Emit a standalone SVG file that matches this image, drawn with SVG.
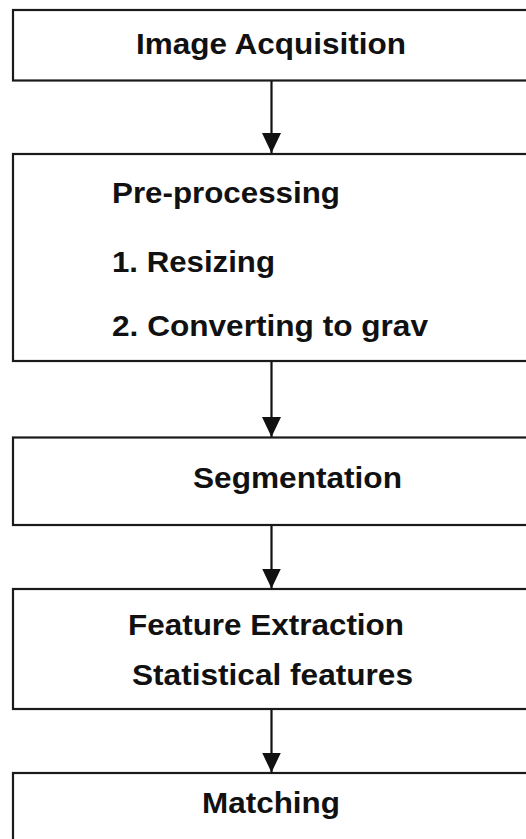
<svg xmlns="http://www.w3.org/2000/svg" width="526" height="839" viewBox="0 0 526 839">
<style>
.box{fill:#fff;stroke:#1a1a1a;stroke-width:2.2}
.t{font-family:"Liberation Sans",Arial,sans-serif;font-weight:bold;font-size:29.5px;fill:#111}
.conn{stroke:#111;stroke-width:2.2;fill:none}
</style>
<defs>
<marker id="ah" markerUnits="userSpaceOnUse" markerWidth="20" markerHeight="19" refX="20" refY="9.5" orient="auto">
<path d="M0,0 L20,9.5 L0,19 Z" fill="#111"/>
</marker>
</defs>
<rect width="526" height="839" fill="#fff"/>
<g id="n1">
<rect class="box" x="13" y="10" width="530" height="70.5"/>
<text class="t" x="136" y="54" textLength="270" lengthAdjust="spacingAndGlyphs">Image Acquisition</text>
</g>
<g id="n2">
<rect class="box" x="13" y="154" width="530" height="207"/>
<text class="t" x="112" y="203" textLength="228" lengthAdjust="spacingAndGlyphs">Pre-processing</text>
<text class="t" x="112" y="272" textLength="163" lengthAdjust="spacingAndGlyphs">1. Resizing</text>
<text class="t" x="112" y="336" textLength="316" lengthAdjust="spacingAndGlyphs">2. Converting to grav</text>
</g>
<g id="n3">
<rect class="box" x="13" y="437.5" width="530" height="87.5"/>
<text class="t" x="193" y="488" textLength="209" lengthAdjust="spacingAndGlyphs">Segmentation</text>
</g>
<g id="n4">
<rect class="box" x="13" y="589" width="530" height="120"/>
<text class="t" x="128" y="635" textLength="276" lengthAdjust="spacingAndGlyphs">Feature Extraction</text>
<text class="t" x="132" y="685" textLength="281" lengthAdjust="spacingAndGlyphs">Statistical features</text>
</g>
<g id="n5">
<rect class="box" x="13" y="773" width="530" height="90"/>
<text class="t" x="202" y="813" textLength="138" lengthAdjust="spacingAndGlyphs">Matching</text>
</g>
<g id="connectors">
<line class="conn" x1="271.5" y1="81" x2="271.5" y2="153" marker-end="url(#ah)"/>
<line class="conn" x1="271.5" y1="362" x2="271.5" y2="437" marker-end="url(#ah)"/>
<line class="conn" x1="271.5" y1="526" x2="271.5" y2="588.5" marker-end="url(#ah)"/>
<line class="conn" x1="271.5" y1="710" x2="271.5" y2="772.5" marker-end="url(#ah)"/>
</g>
</svg>
